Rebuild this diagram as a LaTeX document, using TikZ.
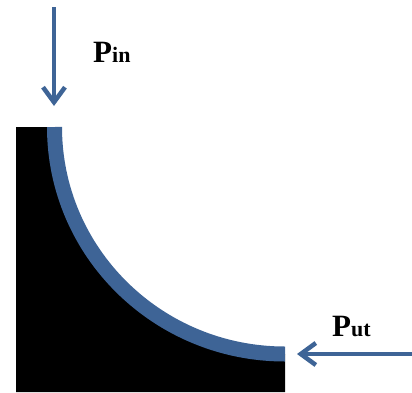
\documentclass[tikz,border=0pt]{standalone}
\usepackage{fontspec}
\setmainfont{Liberation Serif}
\usetikzlibrary{arrows.meta}
\definecolor{bandblue}{RGB}{62,100,150}
\tikzset{
  flow/.style={bandblue, line width=4.5pt, -{Straight Barb[length=15pt,width=22pt,line width=4.5pt]}},
  lbl/.style={anchor=base west, inner sep=0pt, font=\bfseries},
}
\begin{document}
\begin{tikzpicture}[x=1pt,y=-1pt]
\useasboundingbox (0,0) rectangle (412,392);
% black body
\fill[black] (16,127) -- (54.5,127) arc[start angle=180, end angle=90, x radius=230.5, y radius=227] -- (285,392) -- (16,392) -- cycle;
% blue band
\draw[bandblue, line width=15pt] (54.5,127) arc[start angle=180, end angle=90, x radius=230.5, y radius=227];
% arrows
\coordinate (inS) at (54,7);
\coordinate (inE) at (54,106);
\coordinate (outS) at (412,354);
\coordinate (outE) at (297,354);
\draw[flow] (inS) -- (inE);
\draw[flow] (outS) -- (outE);
% labels
\node[lbl] (pin) at (93,62) {\fontsize{31}{31}\selectfont P\fontsize{22}{22}\selectfont in};
\node[lbl] (pout) at (332,336) {\fontsize{31}{31}\selectfont P\fontsize{22}{22}\selectfont ut};
\end{tikzpicture}
\end{document}
